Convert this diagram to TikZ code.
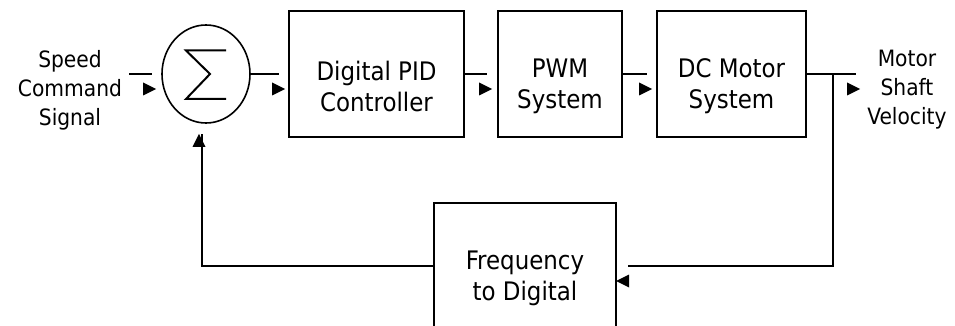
\documentclass[tikz,border=0pt]{standalone}
\usepackage{fontspec}
\setmainfont{DejaVu Sans Condensed}
\usepackage{tikz}
\usetikzlibrary{shapes.geometric}
\tikzset{
	block/.style={shape=rectangle,draw=black,minimum height=126pt,inner sep=0pt},
	boxtext/.style={align=center,font=\fontsize{25.5}{31}\selectfont},
	sigtext/.style={align=center,font=\fontsize{22.5}{29}\selectfont},
	head/.pic={\fill (0,0) -- (-13,-6.5) -- (-13,6.5) -- cycle;}
}

\begin{document}
\begin{tikzpicture}[x=1pt,y=-1pt,line width=2pt]
	\useasboundingbox (0,0) rectangle (955,326);
	\clip (0,0) rectangle (955,326);
	\node[shape=ellipse,draw=black,line width=1.6pt,minimum width=88pt,minimum height=98pt,inner sep=0pt] (sum) at (206,74) {};
	\node[block,minimum width=175pt,label={[boxtext,yshift=-12pt]center:{Digital PID\\Controller}}] (pid) at (376.5,74) {};
	\node[block,minimum width=124pt,label={[boxtext,yshift=-12pt]center:{PWM\\System}}] (pwm) at (560,74) {};
	\node[block,minimum width=149pt,label={[boxtext,yshift=-12pt]center:{DC Motor\\System}}] (dc) at (731.5,74) {};
	\node[block,minimum width=182pt,label={[boxtext,yshift=-12pt]center:{Frequency\\to Digital}}] (fd) at (525,266) {};
	\node[sigtext] (cmd) at (70,90) {Speed\\Command\\Signal};
	\node[sigtext] (vel) at (907,90) {Motor\\Shaft\\Velocity};
	\coordinate (in) at (129,74);
	\coordinate (out) at (856,74);
	\coordinate (br) at (833,74);
	% sigma sign
	\draw ([shift={(20,-23.5)}]sum.center) -- ++(-40,0) -- ++(24,23.5) -- ++(-24,25) -- ++(40,0);
	\path[-] (in) edge[shorten >=9pt] (sum.west);
	\path[-] (sum.east) edge[shorten >=9pt] (pid.west);
	\path[-] (pid.east) edge[shorten >=10pt] (pwm.west);
	\path[-] (pwm.east) edge[shorten >=9pt] (dc.west);
	\path[-] (dc.east) edge (out);
	\draw[shorten >=11pt] (br) |- (fd.east);
	\draw[shorten >=10pt] (fd.west) -| ([xshift=-4pt]sum.south);
	% arrow heads
	\pic at ([shift={(-5,15)}]sum.west) {head};
	\pic at ([shift={(-3,15)}]pid.west) {head};
	\pic at ([shift={(-5,15)}]pwm.west) {head};
	\pic at ([shift={(-4,15)}]dc.west) {head};
	\pic at ([shift={(4,15)}]out) {head};
	\pic[rotate=180] at ([shift={(-1,15)}]fd.east) {head};
	\pic[rotate=90] at ([shift={(-7,10)}]sum.south) {head};
\end{tikzpicture}
\end{document}
